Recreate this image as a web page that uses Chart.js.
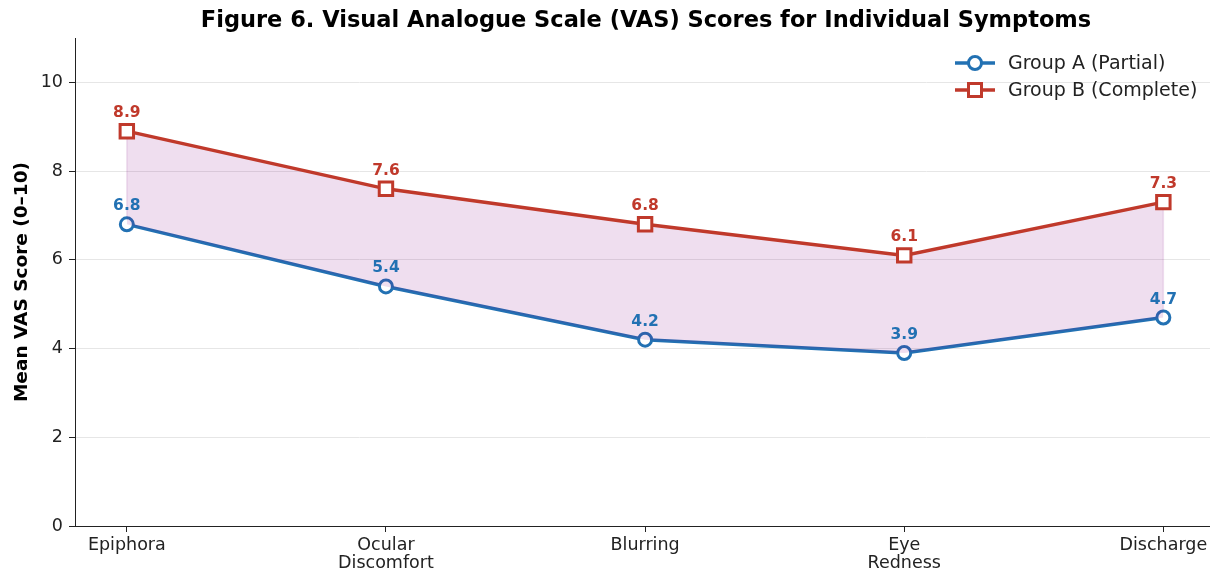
<!DOCTYPE html>
<html>
<head>
<meta charset="utf-8">
<script src="https://cdn.jsdelivr.net/npm/chart.js@4.4.1/dist/chart.umd.min.js"></script>
<style>
  body { margin: 0; background: #fff; }
  canvas { display: block; }
</style>
</head>
<body>
<canvas id="vasChart" width="1210" height="571"></canvas>
<script>
// <![CDATA[
var symptoms = [["Epiphora"], ["Ocular", "Discomfort"], ["Blurring"], ["Eye", "Redness"], ["Discharge"]];
var groupA = [6.8, 5.4, 4.2, 3.9, 4.7];
var groupB = [8.9, 7.6, 6.8, 6.1, 7.3];
var yTicks = [0, 2, 4, 6, 8, 10];
var seriesNames = ["Group A (Partial)", "Group B (Complete)"];

var blue = "#2271b3";
var red = "#c0392b";
var fillColor = "rgba(128,0,128,0.13)";
var font = "'DejaVu Sans', sans-serif";

function toPoints(values) {
    return values.map((v, i) => ({ x: i, y: v }));
}

var extrasPlugin = {
    id: "extras",
    beforeDatasetsDraw: function (chart) {
        // faint vertical edges of the shaded band, like fill_between
        var ctx = chart.ctx;
        var xs = chart.scales.x, ys = chart.scales.y;
        var last = groupA.length - 1;
        ctx.save();
        ctx.strokeStyle = fillColor;
        ctx.lineWidth = 1.5;
        [0, last].forEach(function (i) {
            ctx.beginPath();
            ctx.moveTo(xs.getPixelForValue(i), ys.getPixelForValue(groupA[i]));
            ctx.lineTo(xs.getPixelForValue(i), ys.getPixelForValue(groupB[i]));
            ctx.stroke();
        });
        ctx.restore();
    },
    afterDraw: function (chart) {
        var ctx = chart.ctx;
        ctx.save();
        // value labels
        ctx.font = "bold 15.5px " + font;
        ctx.textAlign = "center";
        ctx.textBaseline = "middle";
        chart.data.datasets.forEach(function (ds, di) {
            var meta = chart.getDatasetMeta(di);
            ctx.fillStyle = ds.borderColor;
            meta.data.forEach(function (pt, i) {
                ctx.fillText(ds.data[i].y.toFixed(1), pt.x, pt.y - 18);
            });
        });

        // title
        ctx.fillStyle = "#000";
        ctx.font = "bold 22.5px " + font;
        ctx.fillText("Figure 6. Visual Analogue Scale (VAS) Scores for Individual Symptoms", 646, 21);

        // y axis title
        ctx.save();
        ctx.translate(22, (chart.chartArea.top + chart.chartArea.bottom) / 2);
        ctx.rotate(-Math.PI / 2);
        ctx.font = "bold 18.5px " + font;
        ctx.fillText("Mean VAS Score (0\u201310)", 0, 0);
        ctx.restore();

        // legend
        ctx.textAlign = "left";
        ctx.font = "19px " + font;
        chart.data.datasets.forEach(function (ds, di) {
            var y = 63 + di * 27;
            ctx.strokeStyle = ds.borderColor;
            ctx.lineWidth = 3.5;
            ctx.beginPath();
            ctx.moveTo(955, y);
            ctx.lineTo(995, y);
            ctx.stroke();
            ctx.fillStyle = "#fff";
            ctx.lineWidth = 3;
            ctx.beginPath();
            if (ds.pointStyle === "rect") {
                ctx.rect(975 - 6.5, y - 6.5, 13, 13);
            } else {
                ctx.arc(975, y, 6.5, 0, Math.PI * 2);
            }
            ctx.fill();
            ctx.stroke();
            ctx.fillStyle = "#222";
            ctx.fillText(seriesNames[di], 1008, y + 1);
        });
        ctx.restore();
    }
};

var config = {
    type: "line",
    data: {
        datasets: [
            {
                label: seriesNames[0],
                data: toPoints(groupA),
                borderColor: blue,
                backgroundColor: "#fff",
                borderWidth: 3.5,
                pointStyle: "circle",
                pointRadius: 6.5,
                pointBorderWidth: 3,
                pointBackgroundColor: "#fff",
                pointBorderColor: blue,
                fill: false,
                order: 1
            },
            {
                label: seriesNames[1],
                data: toPoints(groupB),
                borderColor: red,
                backgroundColor: fillColor,
                borderWidth: 3.5,
                pointStyle: "rect",
                pointRadius: 9.5,
                pointBorderWidth: 3,
                pointBackgroundColor: "#fff",
                pointBorderColor: red,
                fill: { target: 0, above: fillColor, below: fillColor },
                order: 0
            }
        ]
    },
    options: {
        responsive: false,
        animation: false,
        layout: { autoPadding: false, padding: { top: 38, left: 0, right: 0, bottom: 0 } },
        plugins: {
            legend: { display: false },
            title: { display: false },
            tooltip: { enabled: false }
        },
        scales: {
            x: {
                type: "linear",
                min: -0.2,
                max: 4.18,
                afterFit: function (scale) {
                    scale.height = 45;
                    scale.paddingLeft = 0;
                    scale.paddingRight = 0;
                },
                afterBuildTicks: function (scale) {
                    scale.ticks = symptoms.map((s, i) => ({ value: i }));
                },
                ticks: {
                    autoSkip: false,
                    maxRotation: 0,
                    padding: 4,
                    color: "#222",
                    font: { family: font, size: 17.5, lineHeight: 1.05 },
                    callback: function (value) { return symptoms[value]; }
                },
                grid: { drawOnChartArea: false, tickColor: "#222", tickLength: 6, tickWidth: 1 },
                border: { color: "#222", width: 1 }
            },
            y: {
                min: 0,
                max: 11,
                afterFit: function (scale) {
                    scale.width = 75;
                    scale.paddingTop = 0;
                    scale.paddingBottom = 0;
                },
                afterBuildTicks: function (scale) {
                    scale.ticks = yTicks.map((v) => ({ value: v }));
                },
                ticks: {
                    padding: 6,
                    color: "#222",
                    font: { family: font, size: 17.5 }
                },
                grid: { color: "#e6e6e6", lineWidth: 1, tickColor: "#222", tickLength: 6 },
                border: { color: "#222", width: 1 }
            }
        }
    },
    plugins: [extrasPlugin]
};

window.addEventListener("load", function () {
    var ctx = document.getElementById("vasChart").getContext("2d");
    new Chart(ctx, config);
}, false);
// ]]>
</script>
</body>
</html>
